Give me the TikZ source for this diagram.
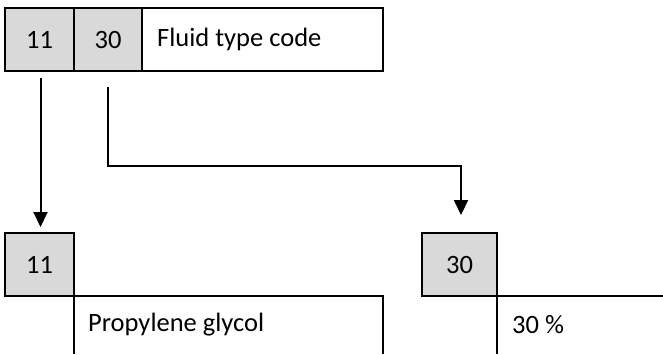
\documentclass[tikz,border=0pt]{standalone}
\usepackage{fontspec}
\setmainfont{Carlito}
\usetikzlibrary{arrows.meta}
\begin{document}
\begin{tikzpicture}[x=1pt,y=-1pt,
  cell/.style={draw,line width=2.4pt,fill=gray!30,minimum width=#1,minimum height=63pt,inner sep=0pt,outer sep=0pt,anchor=north west,font=\fontsize{26.5}{30}\selectfont},
  wide/.style={draw,line width=2.4pt,minimum width=#1,minimum height=63pt,inner sep=0pt,outer sep=0pt,anchor=north west},
  txt/.style={font=\fontsize{26.5}{30}\selectfont,anchor=west,inner sep=0pt},
  edge/.style={line width=2.4pt},
  arr/.style={line width=2pt,-{Triangle[width=14pt,length=15pt]}}]
\useasboundingbox (0,0) rectangle (663,354);
% top row
\node[cell=69pt] (a11) at (5,8) {11};
\node[cell=68pt] (a30) at (74,8) {30};
\node[wide=241pt] (afl) at (142,8) {};
\node[txt] (afltxt) at (157,39.5) {Fluid type code};
% lower left
\node[cell=69pt] (b11) at (5,233) {11};
\coordinate (bl1) at (74,354);
\coordinate (bl2) at (383,296);
\coordinate (bl3) at (383,354);
\draw[edge] (b11.south east) -- (bl1);
\draw[edge] (b11.south east) -- (bl2) -- (bl3);
\node[txt] (pg) at (88,325) {Propylene glycol};
% lower right
\node[cell=75pt] (b30) at (422,233) {30};
\coordinate (br1) at (497,354);
\coordinate (br2) at (663,296);
\draw[edge] (b30.south east) -- (br1);
\draw[edge] (b30.south east) -- (br2);
\node[txt] (pct) at (512,325) {30 \%};
% arrows
\coordinate (s1) at (40.5,78);
\coordinate (e1) at (40.5,227);
\draw[arr] (s1) -- (e1);
\coordinate (s2) at (107.5,87);
\coordinate (k1) at (107.5,166);
\coordinate (k2) at (461,166);
\coordinate (e2) at (461,215);
\draw[arr] (s2) -- (k1) -- (k2) -- (e2);
\end{tikzpicture}
\end{document}
